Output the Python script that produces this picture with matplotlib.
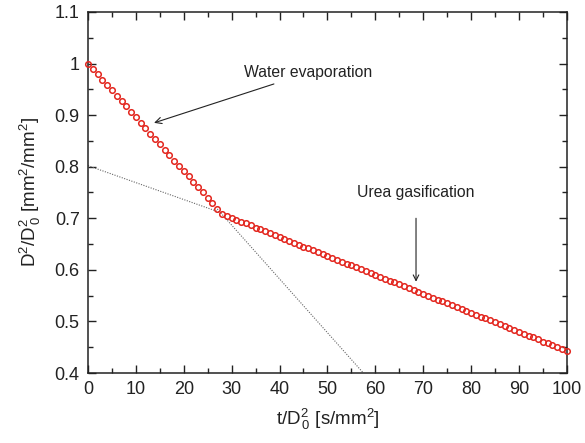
import numpy as np
import matplotlib.pyplot as plt
from matplotlib.ticker import MultipleLocator, FormatStrFormatter

plt.rcParams['font.family'] = ['Liberation Sans', 'DejaVu Sans']
plt.rcParams['mathtext.fontset'] = 'custom'
plt.rcParams['mathtext.rm'] = 'Liberation Sans'
plt.rcParams['mathtext.it'] = 'Liberation Sans'

# normalised time t/D0^2 [s/mm^2]
t_norm = list(range(0, 101))

# normalised squared diameter D^2/D0^2
d2_norm = [
    1.000, 0.990, 0.979, 0.969, 0.958, 0.948, 0.937, 0.927, 0.917, 0.906,
    0.896, 0.885, 0.875, 0.864, 0.854, 0.844, 0.833, 0.823, 0.812, 0.802,
    0.791, 0.781, 0.771, 0.760, 0.750, 0.739, 0.729, 0.718, 0.708, 0.704,
    0.701, 0.697, 0.693, 0.690, 0.686, 0.682, 0.679, 0.675, 0.671, 0.668,
    0.664, 0.660, 0.656, 0.653, 0.649, 0.645, 0.642, 0.638, 0.634, 0.631,
    0.627, 0.623, 0.620, 0.616, 0.612, 0.609, 0.605, 0.601, 0.598, 0.594,
    0.590, 0.587, 0.583, 0.579, 0.576, 0.572, 0.568, 0.564, 0.561, 0.557,
    0.553, 0.550, 0.546, 0.542, 0.539, 0.535, 0.531, 0.528, 0.524, 0.520,
    0.517, 0.513, 0.509, 0.506, 0.502, 0.498, 0.495, 0.491, 0.487, 0.484,
    0.480, 0.476, 0.472, 0.469, 0.465, 0.461, 0.458, 0.454, 0.450, 0.447,
    0.443,
]

# dotted guide lines (extrapolated regimes)
guide_urea_x = [0, 28]
guide_urea_y = [0.802, 0.710]
guide_water_x = [27, 57.5]
guide_water_y = [0.718, 0.400]

fig = plt.figure(figsize=(5.85, 4.43), dpi=100)
ax = fig.add_axes([0.1504, 0.158, 0.8186, 0.815])

ax.plot(guide_urea_x, guide_urea_y, ls=(0, (1, 1.3)), color='#666666', lw=0.8)
ax.plot(guide_water_x, guide_water_y, ls=(0, (1, 1.3)), color='#666666', lw=0.8)

ax.plot(t_norm, d2_norm, ls='none', marker='o', ms=4.0, mfc='none',
        mec='#e3261e', mew=1.1, clip_on=False, zorder=3)

ax.set_xlim(0, 100)
ax.set_ylim(0.4, 1.1)
ax.xaxis.set_major_locator(MultipleLocator(10))
ax.xaxis.set_minor_locator(MultipleLocator(5))
ax.yaxis.set_major_locator(MultipleLocator(0.1))
ax.yaxis.set_minor_locator(MultipleLocator(0.05))
ax.yaxis.set_major_formatter(FormatStrFormatter('%g'))

ax.tick_params(which='both', direction='in', top=True, right=True,
               labelsize=13, width=1.0, colors='#222222')
ax.tick_params(which='major', length=6, pad=6)
ax.tick_params(which='minor', length=3.5)
for s in ax.spines.values():
    s.set_linewidth(1.1)
    s.set_color('#222222')

ax.set_xlabel(r't/D$^2_{\,0}$ [s/mm$^2$]', fontsize=13.5, labelpad=6,
              color='#222222')
ax.set_ylabel(r'D$^2$/D$^2_{\,0}$ [mm$^2$/mm$^2$]', fontsize=13.5, labelpad=8,
              color='#222222')

ax.annotate('Water evaporation', xy=(13.8, 0.885), xytext=(32.6, 0.982),
            fontsize=11.3, va='center', ha='left', color='#222222',
            arrowprops=dict(arrowstyle='->', color='#222222', lw=0.8,
                            shrinkA=2, shrinkB=0))
ax.annotate('', xy=(68.5, 0.577), xytext=(68.5, 0.700),
            arrowprops=dict(arrowstyle='->', color='#222222', lw=0.8,
                            shrinkA=0, shrinkB=0))
ax.text(56.2, 0.749, 'Urea gasification', fontsize=11.3, va='center',
        ha='left', color='#222222')

fig.savefig('out.png', dpi=100)
